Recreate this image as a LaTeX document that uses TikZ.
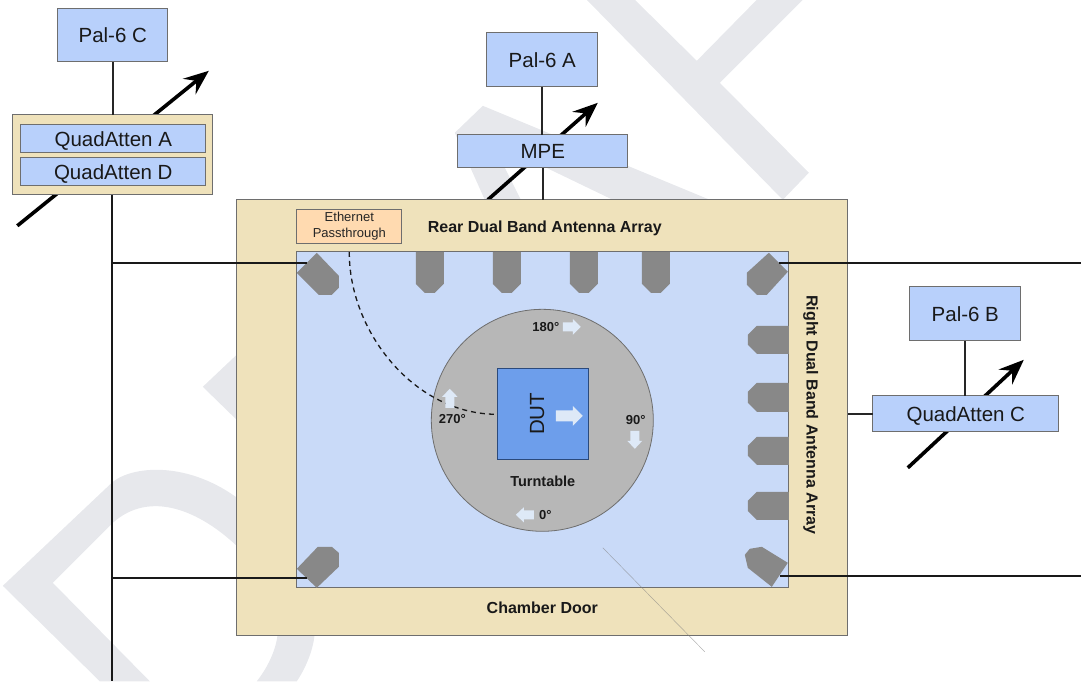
\documentclass[tikz,border=0pt]{standalone}
\usepackage{fontspec}
\setmainfont{Liberation Sans}
\usetikzlibrary{arrows.meta}
\definecolor{wm}{HTML}{E7E8EC}
\definecolor{boxblue}{HTML}{B8D0FB}
\definecolor{innerblue}{HTML}{C9DAF8}
\definecolor{tan}{HTML}{EFE2BB}
\definecolor{peach}{HTML}{FFDAB0}
\definecolor{edge}{HTML}{6E6E6E}
\definecolor{antenna}{HTML}{888888}
\definecolor{ttgray}{HTML}{B7B7B7}
\definecolor{dutblue}{HTML}{6D9EEB}
\definecolor{dutedge}{HTML}{2B4A7C}
\definecolor{wharrow}{HTML}{DEE9F7}
\newcommand{\fsz}[1]{\fontsize{#1}{#1}\selectfont}
\newcommand{\whitearrow}[6]{%
  \fill[wharrow,shift={(#1)},rotate=#2]
    (0,-#6) -- (#3-#4,-#6) -- (#3-#4,-#5) -- (#3,0) -- (#3-#4,#5) -- (#3-#4,#6) -- (0,#6) -- cycle;}
\tikzset{
  x=1pt,y=-1pt,
  plain/.style={inner sep=0pt,outer sep=0pt,line width=1pt,draw=edge,rectangle},
  devbox/.style={plain,fill=boxblue,font=\fsz{20.5},text=black!90,text height=14.7pt,text depth=0pt},
  tanbox/.style={plain,fill=tan},
  wire/.style={line width=2pt,black!90},
  thinwire/.style={line width=1.8pt,black!85},
  tuned/.style={line width=3.6pt,black,-{Stealth[length=25pt,width=20pt,inset=9pt]}},
  boldlabel/.style={inner sep=0pt,outer sep=0pt,font=\fsz{16}\bfseries,text=black!90,text height=11.5pt,text depth=0pt},
  deglabel/.style={inner sep=0pt,outer sep=0pt,font=\fsz{13}\bfseries,text=black!90,text height=9.4pt,text depth=0pt},
  antennafill/.style={fill=antenna},
}
\begin{document}
\begin{tikzpicture}
\useasboundingbox (0,0) rectangle (1081,681);
\begin{scope}[shift={(-.2,-.2)}]
% watermark
\fill[wm] (587,0) -- (635,0) -- (697,61) -- (757,0) -- (803,0) -- (720,83) -- (809,173) -- (783,200) -- cycle;
\fill[wm] (483,106) -- (455,133) -- (485,200) -- (521,200) -- (501,160) -- (530,160) -- (613,200) -- (710,200) -- cycle;
\fill[wm] (240,352) -- (203,387) -- (240,423) -- cycle;
\fill[wm] (100,681.5) -- (3,586) -- (113,482) .. controls (135,465) and (190,462) .. (240,500) -- (240,549)
   .. controls (200,510) and (150,490) .. (113,523) -- (53,583) -- (150,681.5) -- cycle;
\fill[wm] (278,630) .. controls (278,645) and (270,665) .. (257,681.5) -- (297,681.5) .. controls (308,665) and (315,645) .. (315,630) -- cycle;

% free ends
\coordinate (qaS) at (17.5,226);
\coordinate (qaE) at (209,71);
\coordinate (mpS) at (488,200);
\coordinate (mpE) at (598,103);
\coordinate (qcS) at (908,468);
\coordinate (qcE) at (1024,360);

% tuning arrows (behind the boxes)
\draw[tuned] (qaS) -- (qaE);
\draw[tuned] (mpS) -- (mpE);
\draw[tuned] (qcS) -- (qcE);

% boxes
\node[devbox,minimum width=110,minimum height=53] (palc) at (113,35.5) {Pal-6 C};
\node[tanbox,minimum width=200,minimum height=80] (quad) at (113,155) {};
\node[devbox,minimum width=185,minimum height=28] (qa) at (113.5,139) {QuadAtten A};
\node[devbox,minimum width=185,minimum height=28] (qd) at (113.5,172) {QuadAtten D};
\node[devbox,minimum width=111,minimum height=54] (pala) at (542.5,60) {Pal-6 A};
\node[devbox,minimum width=170,minimum height=33] (mpe) at (543,151.5) {MPE};
\node[tanbox,minimum width=611,minimum height=436] (chamber) at (542.5,418) {};
\node[plain,fill=innerblue,minimum width=492,minimum height=336] (inner) at (543,420) {};
\node[plain,fill=peach,minimum width=105,minimum height=34,font=\fontsize{13}{15.5}\selectfont,align=center,text=black!85] (eth) at (349.5,226.5)
  {Ethernet\\Passthrough};
\node[devbox,minimum width=111,minimum height=54] (palb) at (965.5,314) {Pal-6 B};
\node[devbox,minimum width=186,minimum height=36] (quadc) at (966,414) {QuadAtten C};
\node[circle,inner sep=0pt,outer sep=0pt,draw=edge,line width=.8pt,fill=ttgray,minimum size=222] (table) at (542.5,420.5) {};
\node[rectangle,inner sep=0pt,outer sep=0pt,draw=dutedge,line width=1pt,fill=dutblue,minimum width=91,minimum height=91] (dut) at (543.5,414.5) {};

% connectors between boxes
\draw[thinwire] (palc.south) -- (palc.south |- quad.north);
\draw[thinwire] (pala.south) -- (pala.south |- mpe.north);
\draw[thinwire] (mpe.south) -- (mpe.south |- chamber.north);
\draw[thinwire] (palb.south) -- (palb.south |- quadc.north);
\draw[thinwire] (quadc.west) -- (quadc.west -| chamber.east);

% antennas
\fill[antennafill] (416,252) -- (444,252) -- (444,284) -- (435,293) -- (425,293) -- (416,284) -- cycle;
\fill[antennafill] (493,252) -- (521,252) -- (521,284) -- (512,293) -- (502,293) -- (493,284) -- cycle;
\fill[antennafill] (570,252) -- (598,252) -- (598,284) -- (589,293) -- (579,293) -- (570,284) -- cycle;
\fill[antennafill] (642,252) -- (670,252) -- (670,284) -- (661,293) -- (651,293) -- (642,284) -- cycle;
\fill[antennafill] (789,326) -- (789,354) -- (757,354) -- (748,345) -- (748,335) -- (757,326) -- cycle;
\fill[antennafill] (789,383) -- (789,412) -- (757,412) -- (748,403) -- (748,392) -- (757,383) -- cycle;
\fill[antennafill] (789,437) -- (789,465) -- (757,465) -- (748,456) -- (748,446) -- (757,437) -- cycle;
\fill[antennafill] (789,492) -- (789,520) -- (757,520) -- (748,511) -- (748,501) -- (757,492) -- cycle;
\fill[antennafill] (297,273) -- (317,253) -- (339,276) -- (339,288) -- (332,295) -- (319,295) -- cycle;
\fill[antennafill] (769,253) -- (788,272) -- (767,295) -- (757,295) -- (747,285) -- (747,273) -- cycle;
\fill[antennafill] (297,569) -- (318,547) -- (332,547) -- (339,553) -- (339,567) -- (317,588) -- cycle;
\fill[antennafill] (745,555) -- (750,549) -- (762,547) -- (788,563) -- (772,587) -- (748,568) -- cycle;

% wires to the antennas
\coordinate (trunkEnd) at (112.5,681.5);
\coordinate (antTL) at (307,263.5);
\coordinate (antBL) at (307,578);
\coordinate (antTR) at (779,263);
\coordinate (antBR) at (780,576);
\coordinate (edgeTR) at (1081.5,263);
\coordinate (edgeBR) at (1081.5,576);
\draw[wire] (quad.south -| trunkEnd) -- (trunkEnd);
\draw[wire] (trunkEnd |- antTL) -- (antTL);
\draw[wire] (trunkEnd |- antBL) -- (antBL);
\draw[wire] (antTR) -- (edgeTR);
\draw[wire] (antBR) -- (edgeBR);

% ethernet route
\coordinate (ethIn) at (349.5,252);
\draw[line width=1.3pt,black!90,dash pattern=on 5pt off 4pt] (ethIn) .. controls (349,332) and (415,415) .. (dut.west);

% white direction arrows
\whitearrow{563,327}{0}{18}{8}{8}{4.5}
\whitearrow{556,416}{0}{27}{10}{10}{5.5}
\whitearrow{450,408}{90}{19}{8}{7.7}{4.5}
\whitearrow{635,431}{-90}{18}{8}{7.5}{4.5}
\whitearrow{534,515}{180}{18}{8}{7.5}{4.5}

% labels
\node[boldlabel] (rear) at (545,226.5) {Rear Dual Band Antenna Array};
\node[boldlabel] (door) at (542.5,608) {Chamber Door};
\node[boldlabel,rotate=-90] (right) at (812.5,415) {Right Dual Band Antenna Array};
\node[boldlabel,font=\fsz{14.5}\bfseries] (turn) at (543,480.5) {Turntable};
\node[deglabel] (d180) at (546,327) {180°};
\node[deglabel] (d270) at (452.5,419) {270°};
\node[deglabel] (d90) at (636,420) {90°};
\node[deglabel] (d0) at (545.5,515) {0°};
\node[inner sep=0pt,outer sep=0pt,rotate=90,font=\fsz{20.5},text=black!90,text height=14.7pt,text depth=0pt] (dutl) at (537,414) {DUT};

% thin stray line
\coordinate (strayA) at (603,548);
\coordinate (strayB) at (705,652);
\draw[line width=.5pt,black!50,opacity=.6] (strayA) -- (strayB);
\end{scope}
\end{tikzpicture}
\end{document}
